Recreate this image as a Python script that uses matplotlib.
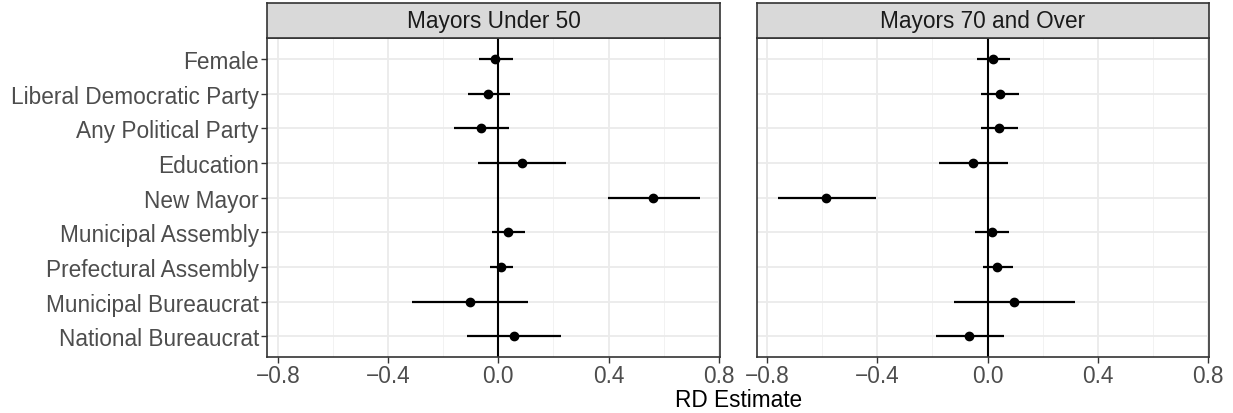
import numpy as np
import matplotlib.pyplot as plt

plt.rcParams['font.family'] = ['Liberation Sans', 'DejaVu Sans']

covariates = ['Female', 'Liberal Democratic Party', 'Any Political Party',
              'Education', 'New Mayor', 'Municipal Assembly',
              'Prefectural Assembly', 'Municipal Bureaucrat', 'National Bureaucrat']
panels = ['Mayors Under 50', 'Mayors 70 and Over']

# point estimates and confidence bounds
est_under50 = [-0.012, -0.036, -0.063, 0.085, 0.562, 0.035, 0.011, -0.104, 0.055]
lo_under50 = [-0.070, -0.111, -0.160, -0.074, 0.399, -0.023, -0.031, -0.313, -0.115]
hi_under50 = [0.053, 0.041, 0.038, 0.246, 0.730, 0.098, 0.054, 0.108, 0.228]

est_over70 = [0.018, 0.046, 0.041, -0.052, -0.587, 0.016, 0.035, 0.095, -0.068]
lo_over70 = [-0.040, -0.022, -0.022, -0.177, -0.762, -0.046, -0.017, -0.123, -0.188]
hi_over70 = [0.081, 0.116, 0.110, 0.075, -0.406, 0.079, 0.092, 0.317, 0.058]

xticks = [-0.8, -0.4, 0.0, 0.4, 0.8]
xtick_labels = ['\u22120.8', '\u22120.4', '0.0', '0.4', '0.8']

fig = plt.figure(figsize=(12.33, 4.14), dpi=100)
W, H = 1233, 414
panel_x = [(267.3, 720.3), (756.7, 1209.3)]
top, bottom = 39.3, 358.0
strip_top = 3.7
fs = 16.3

data = [(est_under50, lo_under50, hi_under50), (est_over70, lo_over70, hi_over70)]
ypos = np.arange(len(covariates))[::-1] + 1

for i, (x0, x1) in enumerate(panel_x):
    ax = fig.add_axes([x0 / W, 1 - bottom / H, (x1 - x0) / W, (bottom - top) / H])
    est, lo, hi = data[i]
    ax.set_xlim(-0.838, 0.805)
    ax.set_ylim(0.4, 9.6)
    for m in [-0.6, -0.2, 0.2, 0.6]:
        ax.axvline(m, color='#f2f2f2', lw=0.7, zorder=0)
    for t in xticks:
        ax.axvline(t, color='#ebebeb', lw=1.3, zorder=0)
    for y in ypos:
        ax.axhline(y, color='#ebebeb', lw=1.3, zorder=0)
    ax.axvline(0, color='black', lw=1.5, zorder=1)
    ax.hlines(ypos, lo, hi, color='black', lw=1.6, zorder=2)
    ax.scatter(est, ypos, s=36, color='black', zorder=3)
    ax.set_xticks(xticks)
    ax.set_xticklabels(xtick_labels)
    ax.set_yticks(ypos)
    if i == 0:
        ax.set_yticklabels(covariates)
        ax.tick_params(axis='y', length=4, width=1, color='#333333',
                       labelsize=fs, labelcolor='#4d4d4d', pad=2)
    else:
        ax.set_yticklabels([])
        ax.tick_params(axis='y', length=0)
    ax.tick_params(axis='x', length=4, width=1, color='#333333',
                   labelsize=fs, labelcolor='#4d4d4d', pad=1)
    for s in ax.spines.values():
        s.set_color('#333333')
        s.set_linewidth(1.2)

    sax = fig.add_axes([x0 / W, 1 - top / H, (x1 - x0) / W, (top - strip_top) / H])
    sax.set_facecolor('#d9d9d9')
    sax.set_xticks([])
    sax.set_yticks([])
    for s in sax.spines.values():
        s.set_color('#333333')
        s.set_linewidth(1.2)
    sax.text(0.5, 0.5, panels[i], ha='center', va='center', fontsize=fs,
             color='#1a1a1a', transform=sax.transAxes)

fig.text((panel_x[0][0] + panel_x[1][1]) / 2 / W, 1 - 401 / H, 'RD Estimate',
         ha='center', va='center', fontsize=fs, color='black')

fig.savefig('out.png', dpi=100)
